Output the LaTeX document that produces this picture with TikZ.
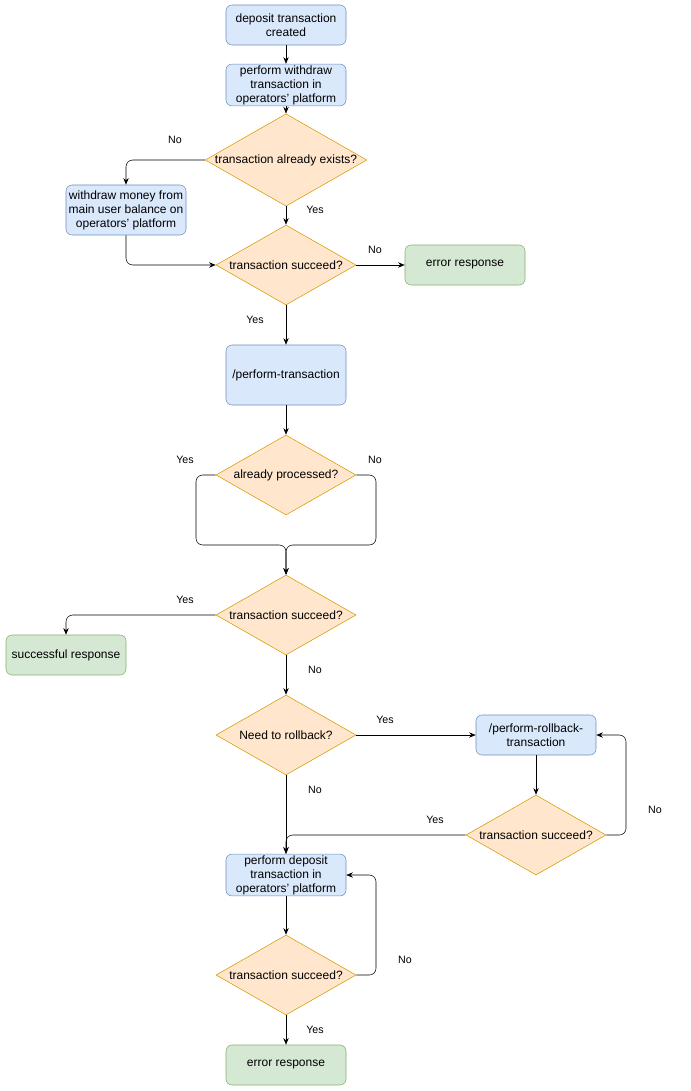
\documentclass[tikz,border=0pt]{standalone}
\usepackage{fontspec}
\setmainfont{Liberation Sans}
\usetikzlibrary{shapes.geometric,arrows.meta}
\definecolor{procfill}{HTML}{DAE8FC}
\definecolor{procline}{HTML}{6C8EBF}
\definecolor{askfill}{HTML}{FFE6CC}
\definecolor{askline}{HTML}{D79B00}
\definecolor{endfill}{HTML}{D5E8D4}
\definecolor{endline}{HTML}{82B366}
\begin{document}
\begin{tikzpicture}[x=0.75pt, y=-0.75pt]
  \tikzset{
    font={\fontsize{9pt}{10.5pt}\selectfont},
    proc/.style={draw=procline, fill=procfill, rounded corners=4.5pt, minimum width=90pt, align=center, inner sep=1pt},
    finish/.style={draw=endline, fill=endfill, rounded corners=4.5pt, minimum width=90pt, minimum height=30pt, align=center},
    ask/.style={diamond, aspect=1.75, draw=askline, fill=askfill, inner sep=0pt, align=center},
    flow/.style={-{Stealth[length=5pt,width=4pt]}, rounded corners=5pt},
    lbl/.style={font={\fontsize{8pt}{9pt}\selectfont}},
  }
  \useasboundingbox (0,0) rectangle (691,1091);

  % boxes
  \node[proc, minimum height=30pt] (created) at (286,25) {deposit transaction\\created};
  \node[proc, minimum height=30pt] (withdraw) at (286,85) {perform withdraw\\transaction in\\operators' platform};
  \node[ask, minimum width=120pt, minimum height=52.5pt] (exists) at (286,160) {transaction already exists?};
  \node[proc, minimum height=37.5pt] (money) at (126,210) {withdraw money from\\main user balance on\\operators' platform};
  \node[ask, minimum width=105pt, minimum height=60pt] (succA) at (286,265) {transaction succeed?};
  \node[finish] (errA) at (465,265) {error response};
  \node[proc, minimum height=45pt] (perform) at (286,375) {/perform-transaction};
  \node[ask, minimum width=105pt, minimum height=60pt] (processed) at (286,475) {already processed?};
  \node[ask, minimum width=105pt, minimum height=60pt] (succB) at (286,615) {transaction succeed?};
  \node[finish] (ok) at (66,655) {successful response};
  \node[ask, minimum width=105pt, minimum height=60pt] (rollback) at (286,735) {Need to rollback?};
  \node[proc, minimum height=30pt] (rbtx) at (536,735) {/perform-rollback-\\transaction};
  \node[ask, minimum width=105pt, minimum height=60pt] (succC) at (536,835) {transaction succeed?};
  \node[proc, minimum height=30pt] (deposit) at (286,875) {perform deposit\\transaction in\\operators' platform};
  \node[ask, minimum width=105pt, minimum height=60pt] (succD) at (286,975) {transaction succeed?};
  \node[finish] (errB) at (286,1065) {error response};

  % connectors
  \draw[flow] (created) -- (withdraw);
  \draw[flow] (withdraw) -- (exists);
  \draw[flow] (exists.west) -| (money.north);
  \draw[flow] (exists) -- (succA);
  \draw[flow] (money.south) |- (succA.west);
  \draw[flow] (succA) -- (errA);
  \draw[flow] (succA) -- (perform);
  \draw[flow] (perform) -- (processed);
  \coordinate (join) at (286,545);
  \draw[flow] (processed.west) -- (196,475) -- (196,545) -- (join) -- (succB.north);
  \draw[flow] (processed.east) -- (376,475) -- (376,545) -- (join) -- (succB.north);
  \draw[flow] (succB.west) -| (ok.north);
  \draw[flow] (succB) -- (rollback);
  \draw[flow] (rollback) -- (rbtx);
  \draw[flow] (rollback) -- (deposit);
  \draw[flow] (rbtx) -- (succC);
  \draw[flow] (succC.west) -| (deposit.north);
  \draw[flow] (succC.east) -- (626,835) -- (626,735) -- (rbtx.east);
  \draw[flow] (deposit) -- (succD);
  \draw[flow] (succD.east) -- (376,975) -- (376,875) -- (deposit.east);
  \draw[flow] (succD) -- (errB);

  % labels
  \node[lbl] (l1) at (175,140) {No};
  \node[lbl] (l2) at (315,210) {Yes};
  \node[lbl] (l3) at (375,250) {No};
  \node[lbl] (l4) at (255,320) {Yes};
  \node[lbl] (l5) at (185,460) {Yes};
  \node[lbl] (l6) at (375,460) {No};
  \node[lbl] (l7) at (185,600) {Yes};
  \node[lbl] (l8) at (315,670) {No};
  \node[lbl] (l9) at (385,720) {Yes};
  \node[lbl] (l10) at (315,790) {No};
  \node[lbl] (l11) at (435,820) {Yes};
  \node[lbl] (l12) at (655,810) {No};
  \node[lbl] (l13) at (405,960) {No};
  \node[lbl] (l14) at (315,1030) {Yes};
\end{tikzpicture}
\end{document}
